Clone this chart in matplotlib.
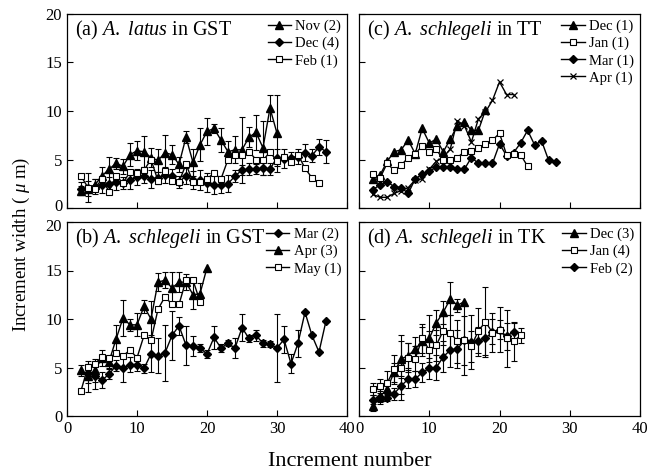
import numpy as np
import matplotlib
matplotlib.use("Agg")
import matplotlib.pyplot as plt
import matplotlib.transforms as mtransforms

plt.rcParams['font.family'] = ['Liberation Serif', 'DejaVu Serif']
plt.rcParams['mathtext.fontset'] = 'custom'
plt.rcParams['mathtext.rm'] = 'Liberation Serif'
plt.rcParams['mathtext.it'] = 'Liberation Serif:italic'

nan = np.nan

# (a) A. latus in GST
a_nov_start = 2
a_nov_y = [1.8, 2.0, 2.4, 3.3, 4.0, 4.6, 4.3, 5.5, 5.9, 5.8, 5.2, 4.9, 5.7, 5.5, 4.5,
           7.3, 4.7, 6.5, 7.9, 8.2, 7.0, 5.8, 6.0, 6.0, 7.3, 7.8, 6.2, 10.3, 7.7]
a_nov_sd = [0.5, 0.8, 0.6, 0.9, 1.3, 0.6, 0.8, 1.2, 1.0, 1.6, 1.0, 1.2, 1.8, 1.0, 0.8,
            0.6, 1.4, 1.7, 1.4, 0.5, 1.2, 1.1, 1.4, 3.4, 1.0, 1.8, 2.8, 1.3, 4.0]
a_dec_start = 2
a_dec_y = [2.0, 2.1, 2.2, 2.4, 2.5, 2.7, 2.6, 2.9, 3.2, 3.3, 3.0, 3.1, 3.4, 3.3, 2.7,
           3.3, 2.9, 2.9, 2.6, 2.4, 2.4, 2.5, 3.3, 3.9, 4.0, 4.0, 4.1, 4.0, 5.2, 5.1,
           5.2, 5.3, 5.7, 5.4, 6.3, 5.8]
a_dec_sd = [0.7, 1.5, 0.8, 0.9, 0.7, 0.8, 0.6, 0.9, 0.8, 0.7, 0.9, 0.6, 0.8, 0.7, 0.6,
            0.8, 0.9, 1.0, 1.0, 1.0, 0.9, 0.9, 0.6, 0.5, 0.6, 0.5, 0.7, 0.6, 0.9, 1.0,
            0.6, 0.8, 0.9, 0.7, 0.8, 1.2]
a_feb_start = 2
a_feb_y = [3.3, 2.1, 2.0, 3.0, 1.7, 3.3, 2.6, 3.7, 3.6, 3.9, 5.0, 2.8, 3.8, 2.8, 2.7,
           4.5, 2.7, 2.7, 3.0, 3.6, 3.0, 5.0, 5.5, 5.5, 5.8, 5.0, 4.9, 5.8, 4.8, 5.3,
           4.7, 5.5, 4.1, 3.1, 2.6]

# (b) A. schlegeli in GST
b_mar_start = 3
b_mar_y = [4.4, 4.1, 3.7, 4.3, 5.2, 4.9, 5.3, 5.3, 4.9, 6.4, 6.2, 6.5, 8.3, 9.3, 7.3,
           7.2, 7.0, 6.4, 8.1, 7.0, 7.5, 7.0, 9.1, 8.0, 8.3, 7.5, 7.4, 7.0, 7.9, 5.4,
           7.5, 10.7, 8.3, 6.6, 9.8]
b_mar_sd = [1.0, 1.3, 0.8, 0.5, 0.6, 1.4, 0.8, 0.7, 0.5, 1.9, 1.8, 2.9, 2.5, 0.9, 2.0,
            1.0, 0.4, 0.4, 1.2, 0.4, 0.3, 1.0, 1.4, 0.4, 0.6, 0.35, 0.3, 3.5, 1.4, 1.0,
            1.4, nan, nan, nan, nan]
b_apr_start = 2
b_apr_y = [4.7, 4.1, 4.7, 6.0, 5.6, 7.9, 10.1, 9.4, 9.4, 11.3, 10.0, 13.8, 14.0, 13.2,
           13.8, 13.8, 12.5, 12.6, 15.3]
b_apr_sd = [0.6, 1.6, 1.2, 0.8, 0.6, 1.5, 1.9, 0.6, 1.2, 0.7, 1.9, 0.9, 0.8, 1.6,
            1.0, 0.8, 1.5, 1.1, nan]
b_may_start = 2
b_may_y = [2.6, 5.1, 5.4, 6.1, 6.0, 6.5, 6.2, 6.8, 6.0, 8.3, 7.8, 11.0, 12.3, 11.5,
           11.5, 14.0, 14.0, 11.8]

# (c) A. schlegeli in TT
c_dec_start = 2
c_dec_y = [3.0, 3.4, 4.8, 5.8, 6.0, 7.0, 5.6, 8.2, 6.7, 7.1, 5.8, 7.1, 8.5, 8.9, 8.0,
           8.0, 10.1]
c_jan_start = 2
c_jan_y = [3.5, 3.1, 4.6, 3.9, 4.4, 5.2, 5.6, 6.4, 5.8, 6.1, 4.9, 5.0, 5.2, 5.8, 5.9,
           6.2, 6.6, 7.0, 7.7, 5.5, 5.6, 5.5, 4.3]
c_mar_start = 2
c_mar_y = [1.9, 2.4, 2.7, 2.2, 2.1, 1.5, 3.0, 3.5, 3.8, 4.2, 4.2, 4.2, 4.0, 4.0, 5.2,
           4.6, 4.6, 4.6, 6.6, 5.4, 5.7, 6.7, 8.0, 6.5, 6.9, 4.9, 4.7]
c_apr_start = 2
c_apr_y = [1.4, 1.1, 1.1, 1.5, 1.8, 2.1, 2.9, 3.0, 4.0, 4.8, 5.2, 6.1, 9.0, 8.5, 6.8,
           9.2, 9.9, 11.1, 13.0, 11.7, 11.7]

# (d) A. schlegeli in TK
d_dec_start = 2
d_dec_y = [1.0, 2.0, 2.8, 4.5, 5.9, 6.2, 6.9, 7.7, 8.0, 9.6, 10.7, 12.1, 11.4, 11.8]
d_dec_sd = [0.5, 0.8, 0.9, 1.0, 1.8, 1.3, 1.2, 1.5, 2.4, 1.3, 1.2, 1.7, 0.7, nan]
d_jan_start = 2
d_jan_y = [2.8, 3.1, 3.4, 4.8, 5.0, 6.0, 5.9, 8.0, 6.8, 7.3, 8.8, 8.6, 7.7, 7.8, 7.2,
           8.8, 9.7, 8.6, 8.9, 8.0, 7.7, 8.3]
d_jan_sd = [0.6, 0.7, 1.2, 1.5, 3.4, 1.5, 1.3, 1.5, 2.0, 1.6, 1.5, 1.8, 2.2, 3.6, 1.6,
            2.3, 3.6, 2.0, 2.3, 2.9, 2.0, 0.8]
d_feb_start = 2
d_feb_y = [1.7, 2.0, 1.9, 2.3, 3.1, 3.8, 3.8, 4.5, 4.9, 5.0, 6.1, 6.8, 6.9, 7.8, 7.6,
           7.7, 8.0, 8.7, 8.9, 8.2, 8.7]
d_feb_sd = [0.5, 0.6, 0.4, 0.6, 0.8, 0.9, 0.8, 1.0, 1.1, 1.3, 1.6, 1.7, 2.0, 2.5, 2.8,
            1.5, 1.7, 1.3, 1.0, 1.4, 0.9]

# marker styles
STY = {
    'tri': dict(marker='^', ms=5.5, mfc='k', mec='k'),
    'dia': dict(marker='D', ms=4.0, mfc='k', mec='k'),
    'sq': dict(marker='s', ms=5.0, mfc='white', mec='k', mew=0.8),
    'x': dict(marker='x', ms=5.0, mfc='k', mec='k', mew=0.9),
}


def draw(ax, start, y, sty, label, sd=None, z=3):
    x = np.arange(start, start + len(y))
    if sd is not None:
        ax.errorbar(x, y, yerr=np.array(sd, dtype=float), fmt='none', ecolor='k',
                    elinewidth=0.8, capsize=2.5, capthick=0.8, zorder=z - 0.5)
    ax.plot(x, y, color='k', lw=1.0, label=label, zorder=z, **STY[sty])


fig = plt.figure(figsize=(6.56, 4.74), dpi=100)
W, H = 656, 474


def make_ax(l, t, r, b):
    return fig.add_axes([l / W, 1 - b / H, (r - l) / W, (b - t) / H])


ax_a = make_ax(67, 14, 347, 208)
ax_c = make_ax(359, 14, 640, 208)
ax_b = make_ax(67, 222, 347, 416)
ax_d = make_ax(359, 222, 640, 416)

draw(ax_a, a_nov_start, a_nov_y, 'tri', 'Nov (2)', a_nov_sd)
draw(ax_a, a_dec_start, a_dec_y, 'dia', 'Dec (4)', a_dec_sd)
draw(ax_a, a_feb_start, a_feb_y, 'sq', 'Feb (1)', z=4)

draw(ax_b, b_mar_start, b_mar_y, 'dia', 'Mar (2)', b_mar_sd)
draw(ax_b, b_apr_start, b_apr_y, 'tri', 'Apr (3)', b_apr_sd)
draw(ax_b, b_may_start, b_may_y, 'sq', 'May (1)', z=4)

draw(ax_c, c_dec_start, c_dec_y, 'tri', 'Dec (1)')
draw(ax_c, c_jan_start, c_jan_y, 'sq', 'Jan (1)', z=4)
draw(ax_c, c_mar_start, c_mar_y, 'dia', 'Mar (1)')
draw(ax_c, c_apr_start, c_apr_y, 'x', 'Apr (1)')

draw(ax_d, d_dec_start, d_dec_y, 'tri', 'Dec (3)', d_dec_sd)
draw(ax_d, d_jan_start, d_jan_y, 'sq', 'Jan (4)', d_jan_sd, z=4)
draw(ax_d, d_feb_start, d_feb_y, 'dia', 'Feb (2)', d_feb_sd)

titles = {
    ax_a: r'(a) $\it{A.\ latus}$ in GST',
    ax_b: r'(b) $\it{A.\ schlegeli}$ in GST',
    ax_c: r'(c) $\it{A.\ schlegeli}$ in TT',
    ax_d: r'(d) $\it{A.\ schlegeli}$ in TK',
}

for ax in (ax_a, ax_b, ax_c, ax_d):
    ax.set_xlim(0, 40)
    ax.set_ylim(0, 20)
    ax.set_xticks([0, 10, 20, 30, 40])
    ax.set_yticks([0, 5, 10, 15, 20])
    ax.tick_params(direction='in', length=4, width=0.8, labelsize=12)
    for s in ax.spines.values():
        s.set_linewidth(0.9)
    ax.text(0.03, 0.915, titles[ax], transform=ax.transAxes, fontsize=14.5,
            va='center', ha='left')
    ax.legend(loc='upper right', frameon=False, fontsize=10.5, handlelength=1.6,
              handletextpad=0.3, labelspacing=0.25, borderaxespad=0.2,
              borderpad=0.2)

ax_a.tick_params(labelbottom=False)
ax_c.tick_params(labelbottom=False, labelleft=False)
ax_d.tick_params(labelleft=False)

# nudge the touching "0" (top panel) and "20" (bottom panel) labels apart a bit
lab0 = ax_a.yaxis.get_major_ticks()[0].label1
lab0.set_transform(mtransforms.offset_copy(lab0.get_transform(), fig, y=3, units='dots'))
lab20 = ax_b.yaxis.get_major_ticks()[-1].label1
lab20.set_transform(mtransforms.offset_copy(lab20.get_transform(), fig, y=-3, units='dots'))

fig.text(0.032, 0.485, r'Increment width ( $\mu$ m)', rotation=90, fontsize=13.5,
         ha='center', va='center')
fig.text(350 / W, 1 - 462 / H, 'Increment number', fontsize=16,
         ha='center', va='center')

fig.savefig('out.png', dpi=100)
